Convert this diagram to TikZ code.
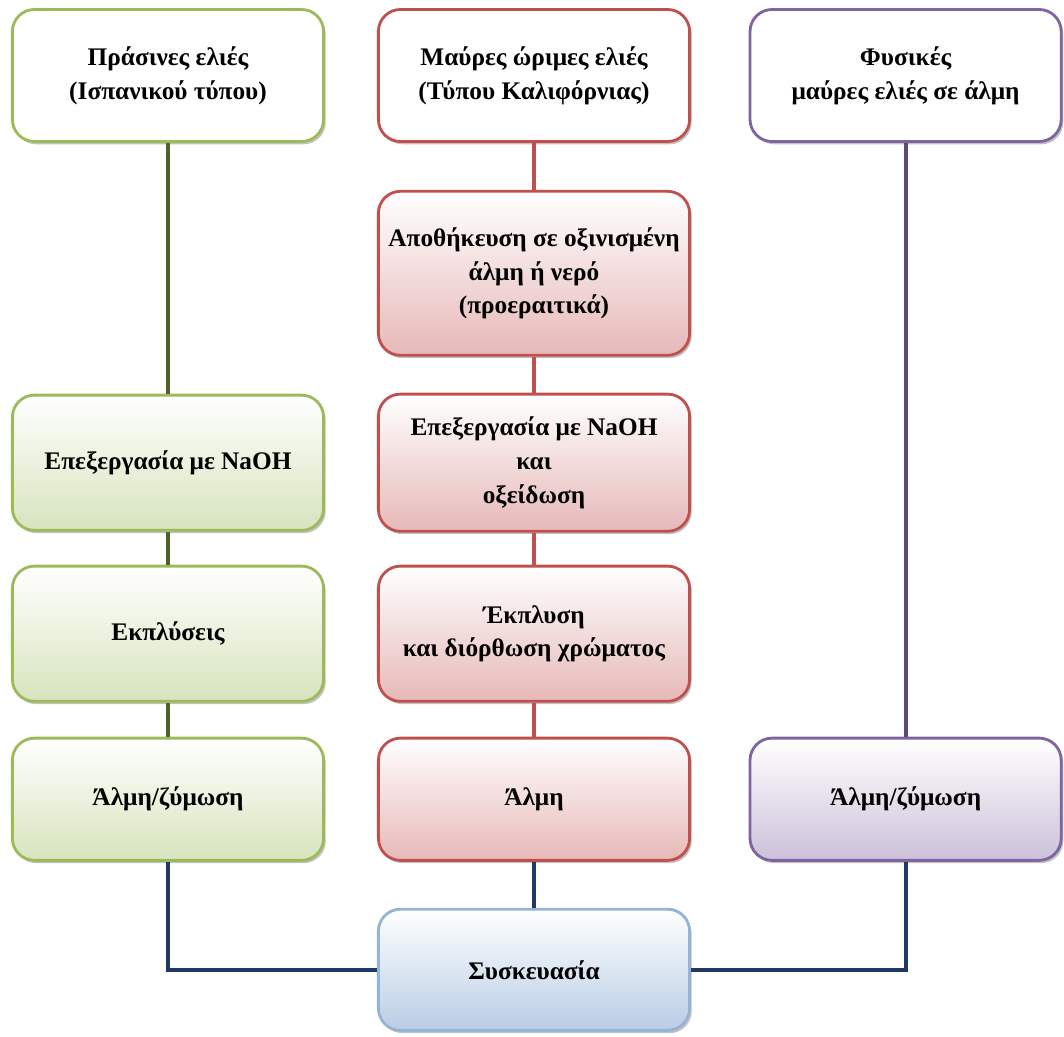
\documentclass[tikz,border=0pt]{standalone}
\usepackage{fontspec}
\setmainfont{Liberation Serif}
\usepackage{tikz}
\usetikzlibrary{positioning,shadows}

\definecolor{grline}{HTML}{9BBB59}
\definecolor{grfill}{HTML}{D7E4BD}
\definecolor{grlink}{HTML}{4F6228}
\definecolor{rdline}{HTML}{C0504D}
\definecolor{rdfill}{HTML}{E6B9B8}
\definecolor{ppline}{HTML}{8064A2}
\definecolor{ppfill}{HTML}{CCC1DA}
\definecolor{pplink}{HTML}{604A7B}
\definecolor{blline}{HTML}{95B3D7}
\definecolor{blfill}{HTML}{B9CDE5}
\definecolor{bllink}{HTML}{1F3864}

\begin{document}
\begin{tikzpicture}[node distance=8mm,
 font=\fontsize{18}{24}\selectfont\bfseries,
 box/.style   = {draw, rectangle, rounded corners=0.55cm, line width=2pt,
                 minimum width=7.78cm, align=center,
                 drop shadow={shadow xshift=1.5pt, shadow yshift=-2pt, opacity=0.4, fill=black!60}},
 gbox/.style  = {box, draw=grline, top color=white, bottom color=grfill},
 rbox/.style  = {box, draw=rdline, top color=white, bottom color=rdfill},
 pbox/.style  = {box, draw=ppline, top color=white, bottom color=ppfill},
 topbox/.style= {box, fill=white, minimum height=3.3cm},
 glink/.style = {draw=grlink, line width=3pt},
 rlink/.style = {draw=rdline, line width=3pt},
 plink/.style = {draw=pplink, line width=3pt},
 blink/.style = {draw=bllink, line width=3pt},
                        ]
    \useasboundingbox (0,0) rectangle (26.6,-25.925);

    % middle column
    \node [topbox, draw=rdline]                                (mraw)   at (13.35,-1.8875)
          {Μαύρες ώριμες ελιές\\(Τύπου Καλιφόρνιας)};
    \node [rbox, minimum height=4.1cm, below=1.175cm of mraw]  (mstore)
          {Αποθήκευση σε οξινισμένη\\άλμη ή νερό\\(προεραιτικά)};
    \node [rbox, minimum height=3.43cm, below=0.9cm of mstore]  (mnaoh)
          {Επεξεργασία με NaOH\\και\\οξείδωση};
    \node [rbox, minimum height=3.38cm, below=0.8cm of mnaoh]   (mwash)
          {Έκπλυση\\και διόρθωση χρώματος};
    \node [rbox, minimum height=3.055cm, below=0.85cm of mwash] (mbrine) {Άλμη};
    \node [box, draw=blline, top color=white, bottom color=blfill,
           minimum height=3.03cm, below=1.15cm of mbrine]       (pack)   {Συσκευασία};

    % left column
    \node [topbox, draw=grline, left=1.3cm of mraw]            (lraw)
          {Πράσινες ελιές\\(Ισπανικού τύπου)};
    \node [gbox, minimum height=3.38cm, left=1.3cm of mnaoh]    (lnaoh)  {Επεξεργασία με NaOH};
    \node [gbox, minimum height=3.38cm, left=1.3cm of mwash]    (lwash)  {Εκπλύσεις};
    \node [gbox, minimum height=3.055cm, left=1.3cm of mbrine]  (lbrine) {Άλμη/ζύμωση};

    % right column
    \node [topbox, draw=ppline, right=1.44cm of mraw]          (rraw)
          {Φυσικές\\μαύρες ελιές σε άλμη};
    \node [pbox, minimum height=3.055cm, right=1.44cm of mbrine] (rbrine) {Άλμη/ζύμωση};

    \begin{scope}[on background layer/.try]
    \path[glink] (lraw)   -- (lnaoh)
                 (lnaoh)  -- (lwash)
                 (lwash)  -- (lbrine);
    \path[rlink] (mraw)   -- (mstore)
                 (mstore) -- (mnaoh)
                 (mnaoh)  -- (mwash)
                 (mwash)  -- (mbrine);
    \path[plink] (rraw)   -- (rbrine);
    \path[blink] (mbrine) -- (pack)
                 (lbrine) |- (pack)
                 (rbrine) |- (pack);
    \end{scope}
\end{tikzpicture}
\end{document}
